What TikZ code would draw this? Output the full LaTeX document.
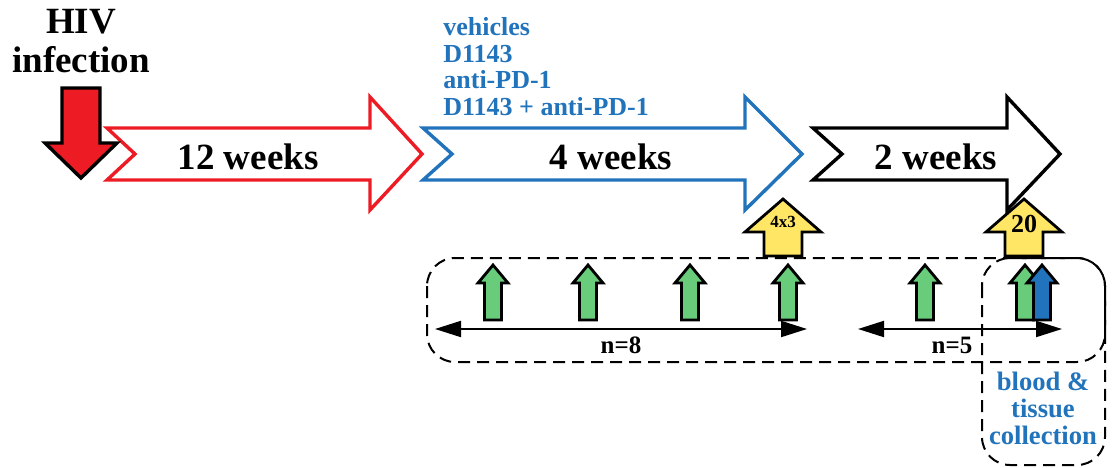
\documentclass[tikz,border=0pt]{standalone}
\usepackage{fontspec}
\setmainfont{Liberation Serif}
\usetikzlibrary{arrows.meta}
\definecolor{hivred}{RGB}{237,28,36}
\definecolor{drugblue}{RGB}{33,115,188}
\definecolor{dosegreen}{RGB}{104,204,122}
\definecolor{doseyellow}{RGB}{255,230,100}

\tikzset{
  weekline/.style={line width=1.7pt, line join=miter, fill=white},
  doseline/.style={line width=1.4pt, line join=miter},
  boxline/.style={line width=1pt, dash pattern=on 6pt off 3.5pt, rounded corners=14pt},
  span/.style={line width=1pt, {Triangle[length=13pt,width=8pt]}-{Triangle[length=13pt,width=8pt]}},
  weektext/.style={font=\bfseries\fontsize{18.5}{20}\selectfont},
}

% chevron: left x, notch x, shaft end x, tip x, colour
\newcommand{\weekarrow}[5]{%
  \draw[weekline, draw=#5] (#1,128) -- (#3,128) -- (#3,97) -- (#4,154)
    -- (#3,210) -- (#3,180) -- (#1,180) -- (#2,154) -- cycle;}
% small dose arrow at x, fill colour
\newcommand{\smallup}[2]{%
  \draw[doseline, fill=#2] (#1,265) -- (#1+15,283) -- (#1+8.5,283) -- (#1+8.5,320)
    -- (#1-8.5,320) -- (#1-8.5,283) -- (#1-15,283) -- cycle;}
% yellow arrow at x
\newcommand{\bigup}[1]{%
  \draw[doseline, fill=doseyellow] (#1,199) -- (#1+38,232) -- (#1+19,232) -- (#1+19,256)
    -- (#1-19,256) -- (#1-19,232) -- (#1-38,232) -- cycle;}

\begin{document}
\begin{tikzpicture}[x=0.5pt, y=-0.5pt]
  \useasboundingbox (0,0) rectangle (1113,467);
  % phases
  \weekarrow{107}{135}{370}{422}{hivred}
  \weekarrow{423}{452}{745}{802}{drugblue}
  \weekarrow{813}{842}{1007}{1060}{black}
  \node[weektext] (w12) at (248,157) {12 weeks};
  \node[weektext] (w4) at (611,157) {4 weeks};
  \node[weektext] (w2) at (936,157) {2 weeks};
  % infection
  \node[font=\bfseries\fontsize{18.5}{19.5}\selectfont, align=center, inner sep=0pt,
    anchor=north] (hiv) at (81,9) {HIV\\infection};
  \draw[doseline, line width=1.7pt, fill=hivred] (62,88) -- (100,88) -- (100,143)
    -- (117,143) -- (81,178) -- (45,143) -- (62,143) -- cycle;
  % treatments
  \node[font=\bfseries\fontsize{13}{13.3}\selectfont, text=drugblue, align=left,
    inner sep=0pt, anchor=north west] (groups) at (443,17)
    {vehicles\\D1143\\anti-PD-1\\D1143 + anti-PD-1};
  % sampling boxes
  \draw[boxline] (427,258) rectangle (1105,362);
  \draw[boxline] (982,258) rectangle (1105,465);
  % doses
  \bigup{783}
  \bigup{1024}
  \node[font=\bfseries\fontsize{8.5}{9}\selectfont, inner sep=0pt] (x43) at (783,222) {4x3};
  \node[font=\bfseries\fontsize{13}{14}\selectfont, inner sep=0pt] (x20) at (1024,224) {20};
  \foreach \x in {493,588,690,788,925,1025}
    \smallup{\x}{dosegreen};
  \smallup{1042}{drugblue}
  % group sizes
  \coordinate (n8l) at (435,329);
  \coordinate (n8r) at (807,329);
  \coordinate (n5l) at (858,329);
  \coordinate (n5r) at (1062,329);
  \draw[span] (n8l) -- (n8r) node[midway, below, font=\bfseries\fontsize{12.5}{13}\selectfont] {n=8};
  \draw[span] (n5l) -- (n5r) node[midway, below, xshift=-4pt, font=\bfseries\fontsize{12.5}{13}\selectfont] {n=5};
  \node[font=\bfseries\fontsize{13.3}{13.5}\selectfont, text=drugblue, align=center]
    (collect) at (1043,408) {blood \&\\tissue\\collection};
\end{tikzpicture}
\end{document}
